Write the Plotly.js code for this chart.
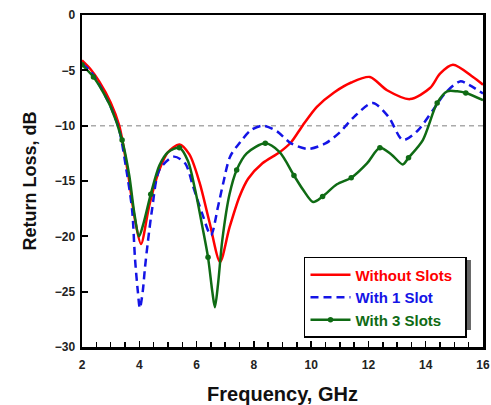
<!DOCTYPE html>
<html>
<head>
<meta charset="utf-8">
<script src="https://cdn.plot.ly/plotly-3.0.1.min.js"></script>
<style>html,body{margin:0;padding:0;background:#fff;}#chart{width:491px;height:405px;}</style>
</head>
<body>
<div id="chart"></div>
<script>
// Frequency (GHz) and return loss (dB)
const freqWithout = [2.0, 2.3, 2.6, 3.0, 3.3, 3.6, 3.85, 4.06, 4.35, 4.7, 5.0, 5.4, 5.75, 6.1, 6.45, 6.82, 7.15, 7.5, 7.8, 8.3, 8.9, 9.3, 9.7, 10.2, 10.8, 11.4, 12.05, 12.65, 13.45, 14.15, 14.5, 14.95, 15.65, 16.0];
const rlWithout   = [-4.1, -4.9, -6.0, -7.9, -10.0, -14.2, -18.5, -20.7, -17.2, -14.0, -12.4, -11.7, -12.6, -15.1, -18.7, -22.3, -19.2, -16.4, -14.8, -13.4, -12.4, -11.5, -10.0, -8.3, -7.0, -6.1, -5.6, -6.8, -7.6, -6.6, -5.3, -4.5, -5.6, -6.3];

const freq1Slot = [2.0, 2.3, 2.6, 3.0, 3.3, 3.55, 3.75, 3.85, 3.95, 4.02, 4.12, 4.2, 4.3, 4.45, 4.7, 5.2, 5.6, 5.88, 6.19, 6.5, 6.75, 6.93, 7.17, 7.52, 7.9, 8.3, 8.8, 9.3, 9.9, 10.5, 11.0, 11.5, 12.15, 12.7, 13.2, 13.7, 14.25, 14.7, 15.2, 15.5, 16.0];
const rl1Slot   = [-4.4, -5.1, -6.3, -8.3, -10.4, -14.0, -17.6, -22.0, -25.0, -26.5, -25.0, -22.8, -20.5, -17.5, -14.0, -12.8, -13.4, -15.5, -17.9, -19.9, -17.3, -15.2, -12.8, -11.5, -10.4, -10.0, -10.5, -11.6, -12.1, -11.6, -10.6, -9.2, -7.95, -9.2, -11.3, -10.5, -8.6, -7.0, -6.0, -6.3, -7.1];

const freq3Slots = [2.0, 2.4, 2.7, 3.0, 3.4, 3.65, 3.82, 3.99, 4.15, 4.4, 4.7, 5.0, 5.4, 5.7, 5.95, 6.2, 6.4, 6.55, 6.64, 6.75, 6.9, 7.15, 7.4, 7.75, 8.4, 8.9, 9.4, 9.72, 10.07, 10.4, 10.9, 11.4, 11.95, 12.4, 12.8, 13.2, 13.4, 13.9, 14.4, 14.75, 15.1, 15.4, 16.0];
const rl3Slots   = [-4.5, -5.6, -6.8, -8.3, -11.3, -14.5, -17.8, -20.0, -18.8, -16.2, -13.6, -12.4, -12.0, -13.2, -15.8, -19.1, -21.9, -25.0, -26.4, -24.3, -20.3, -16.2, -14.0, -12.5, -11.6, -12.4, -14.5, -15.8, -16.9, -16.4, -15.3, -14.7, -13.4, -12.0, -12.6, -13.5, -12.9, -11.3, -7.95, -6.9, -6.9, -7.05, -7.7];

const seriesNames = ['Without Slots', 'With 1 Slot', 'With 3 Slots'];
const threshold = -10;

const RED = '#ff0000', BLUE = '#1414e6', GREEN = '#0f6b14';
const FONT = 'Liberation Sans, Arial, sans-serif';

function legendName(text, color) {
  return '<span style="color:' + color + '">' + text + '</span>&nbsp;&nbsp;';
}

// markers on the green curve: first point and every x.4 GHz point
const greenMarkerColors = freq3Slots.map((f, i) => {
  const frac = f - Math.floor(f);
  return (i === 0 || Math.abs(frac - 0.4) < 1e-6) ? GREEN : 'rgba(0,0,0,0)';
});

const traces = [
  {
    x: freqWithout, y: rlWithout, type: 'scatter', mode: 'lines',
    name: legendName(seriesNames[0], RED),
    line: {color: RED, width: 2.5, shape: 'spline', smoothing: 0.8}
  },
  {
    x: freq1Slot, y: rl1Slot, type: 'scatter', mode: 'lines',
    name: legendName(seriesNames[1], BLUE),
    line: {color: BLUE, width: 2.5, dash: '8px,5px', shape: 'spline', smoothing: 0.8}
  },
  {
    x: freq3Slots, y: rl3Slots, type: 'scatter', mode: 'lines+markers',
    name: legendName(seriesNames[2], GREEN),
    line: {color: GREEN, width: 2.5, shape: 'spline', smoothing: 0.8},
    marker: {color: greenMarkerColors, size: 5.5, line: {width: 0}}
  }
];

const layout = {
  width: 491, height: 405,
  margin: {l: 82, r: 8, t: 15, b: 58},
  paper_bgcolor: '#ffffff', plot_bgcolor: '#ffffff',
  showlegend: true,
  font: {family: FONT, color: '#222'},
  xaxis: {
    range: [2, 16], dtick: 2, tick0: 2,
    ticks: 'inside', ticklen: 6, tickwidth: 1.5, tickcolor: '#000',
    minor: {dtick: 0.5, ticks: 'inside', ticklen: 5, tickwidth: 1.5, tickcolor: '#000'},
    showline: true, linecolor: '#000', linewidth: 2.5, mirror: true,
    showgrid: false, zeroline: false,
    tickfont: {family: FONT, size: 12, weight: 'bold', color: '#222'},
    ticklabelstandoff: 5,
    title: {text: 'Frequency, GHz', font: {family: FONT, size: 20, weight: 'bold', color: '#111'}, standoff: 16}
  },
  yaxis: {
    range: [-30, 0], dtick: 5,
    ticks: 'inside', ticklen: 6, tickwidth: 2, tickcolor: '#000',
    showline: true, linecolor: '#000', linewidth: 2.5, mirror: true,
    showgrid: false, zeroline: false,
    tickfont: {family: FONT, size: 12, weight: 'bold', color: '#222'},
    ticklabelstandoff: 2,
    title: {text: 'Return Loss, dB', font: {family: FONT, size: 18, weight: 'bold', color: '#111'}, standoff: 14}
  },
  shapes: [
    {type: 'line', xref: 'paper', yref: 'y', x0: 0, x1: 1, y0: threshold, y1: threshold,
     line: {color: '#aaaaaa', width: 1.5, dash: '5px,4px'}, layer: 'below'},
    {type: 'rect', xref: 'paper', yref: 'paper', x0: 0.561, x1: 0.970, y0: 0.051, y1: 0.262,
     fillcolor: '#666', line: {width: 0}, layer: 'above'}
  ],
  legend: {
    x: 0.5536, y: 0.2711, xanchor: 'left', yanchor: 'top',
    bgcolor: '#ffffff', bordercolor: '#000', borderwidth: 1.5,
    font: {family: FONT, size: 15, weight: 'bold'},
    tracegroupgap: 0, itemwidth: 40
  }
};

Plotly.newPlot('chart', traces, layout, {displayModeBar: false, staticPlot: true});
</script>
</body>
</html>
